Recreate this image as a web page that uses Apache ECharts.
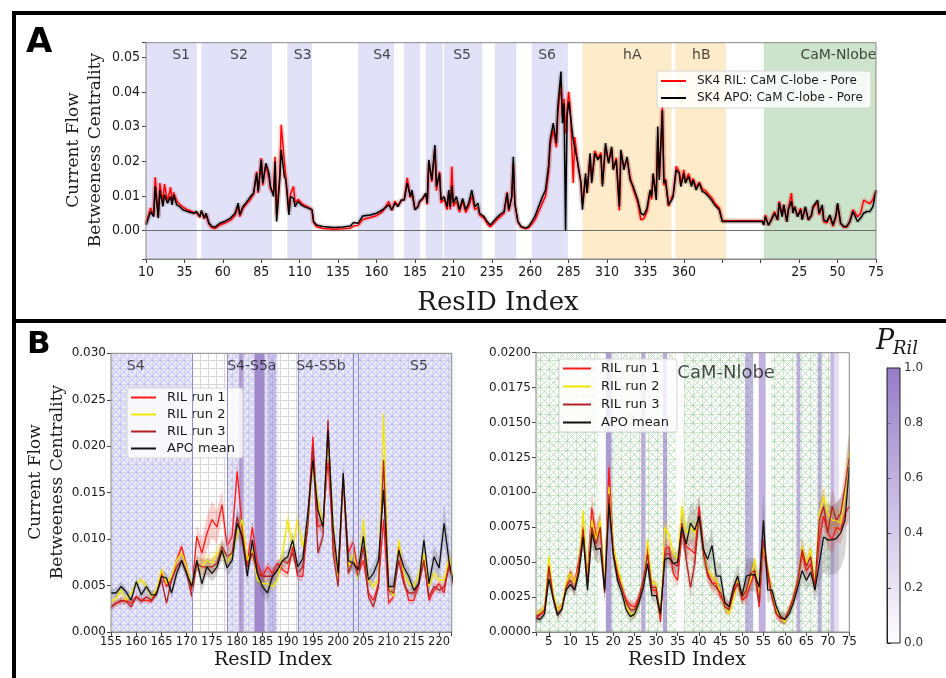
<!DOCTYPE html>
<html><head><meta charset="utf-8">
<script src="https://cdn.jsdelivr.net/npm/echarts@6/dist/echarts.min.js"></script>
<style>html,body{margin:0;padding:0;background:#fff}#c{width:946px;height:678px}</style>
</head><body><div id="c"></div>
<script>
// ---------------- DATA ----------------
// Panel A: x index (SK4 residues 10..385, then CaM N-lobe residue r at index 410+r)
const idxA = [10,13,15,16,18,19,21,22,24,26,27,28,30,32,34,37,41,43,45,46,48,49,51,53,55,58,61,65,68,70,71,73,75,78,80,82,83,85,86,88,90,91,93,94,95,97,98,100,101,103,104,106,107,109,111,113,116,118,119,121,125,132,138,143,145,148,151,156,160,164,168,170,172,174,176,178,180,182,183,185,187,188,190,192,193,194,196,198,199,201,202,204,206,207,208,209,210,212,214,216,218,220,222,224,226,227,230,232,234,236,238,240,243,245,246,248,249,250,252,254,257,259,261,263,265,268,270,272,273,275,277,278,280,281,282,283,284,285,286,288,289,291,293,294,296,297,299,300,302,304,306,307,309,311,313,314,316,318,319,321,323,325,327,330,332,334,336,338,339,340,342,343,344,346,347,348,350,352,353,355,357,358,360,361,363,365,366,368,370,372,374,376,378,380,383,385,411,412,413,415,417,419,421,422,424,425,427,428,430,431,432,434,436,437,439,441,443,444,447,448,450,451,453,455,457,459,460,462,464,466,468,470,473,475,477,479,481,483,485];
const apoA = [1.6e-3,5.5e-3,4.0e-3,12.7e-3,3.6e-3,11.7e-3,7.0e-3,10.3e-3,7.9e-3,9.8e-3,
7.4e-3,10.3e-3,7.4e-3,6.9e-3,6.0e-3,5.5e-3,5.0e-3,5.5e-3,4.0e-3,5.8e-3,
3.6e-3,5.0e-3,2.1e-3,1.2e-3,1.0e-3,2.1e-3,2.6e-3,3.6e-3,5.0e-3,7.9e-3,
4.5e-3,6.9e-3,7.9e-3,9.8e-3,10.8e-3,16.5e-3,11.3e-3,20.4e-3,13.7e-3,19.4e-3,
16.5e-3,12.7e-3,9.8e-3,19.9e-3,2.6e-3,14.6e-3,23.3e-3,15.6e-3,14.6e-3,4.5e-3,
9.8e-3,9.3e-3,6.9e-3,8.4e-3,7.4e-3,6.9e-3,6.4e-3,6.0e-3,2.6e-3,1.6e-3,
1.2e-3,0.9e-3,1.0e-3,1.3e-3,2.3e-3,2.1e-3,4.2e-3,4.5e-3,5.0e-3,6.0e-3,
7.4e-3,6.0e-3,7.9e-3,6.9e-3,8.8e-3,8.8e-3,13.7e-3,9.8e-3,11.7e-3,6.0e-3,
6.9e-3,8.4e-3,9.3e-3,10.8e-3,7.9e-3,20.4e-3,14.6e-3,24.7e-3,12.7e-3,16.5e-3,
8.8e-3,9.8e-3,6.9e-3,11.7e-3,6.9e-3,13.0e-3,7.9e-3,9.8e-3,6.0e-3,9.3e-3,
6.0e-3,7.9e-3,11.7e-3,6.9e-3,7.9e-3,5.0e-3,4.0e-3,2.6e-3,1.6e-3,2.6e-3,
3.6e-3,4.5e-3,5.5e-3,10.8e-3,6.0e-3,9.8e-3,21.3e-3,7.9e-3,2.6e-3,1.2e-3,
0.7e-3,1.2e-3,2.6e-3,4.0e-3,6.4e-3,9.8e-3,11.7e-3,18.9e-3,26.2e-3,31.0e-3,
25.2e-3,35.8e-3,45.9e-3,31.0e-3,36.7e-3,0.0,32.9e-3,37.2e-3,33.8e-3,26.2e-3,
26.2e-3,19.4e-3,13.7e-3,6.0e-3,16.5e-3,10.8e-3,22.3e-3,13.7e-3,22.3e-3,20.4e-3,
21.8e-3,12.7e-3,25.2e-3,19.4e-3,24.2e-3,17.5e-3,20.4e-3,6.9e-3,23.3e-3,17.5e-3,
21.3e-3,14.6e-3,12.7e-3,8.8e-3,5.0e-3,4.5e-3,6.4e-3,11.7e-3,9.8e-3,16.5e-3,
8.8e-3,30.0e-3,14.6e-3,34.8e-3,13.7e-3,14.6e-3,7.4e-3,8.8e-3,9.8e-3,17.5e-3,
16.5e-3,12.7e-3,16.5e-3,13.7e-3,15.6e-3,12.7e-3,14.6e-3,11.7e-3,13.7e-3,11.3e-3,
10.8e-3,9.8e-3,8.8e-3,7.4e-3,6.0e-3,2.6e-3,2.6e-3,1.6e-3,4.0e-3,1.6e-3,
3.1e-3,5.0e-3,3.1e-3,7.9e-3,4.0e-3,7.4e-3,2.6e-3,6.0e-3,8.5e-3,5.0e-3,
6.9e-3,4.0e-3,6.0e-3,3.1e-3,6.9e-3,3.1e-3,4.5e-3,6.9e-3,8.8e-3,5.0e-3,
7.4e-3,3.1e-3,2.6e-3,4.5e-3,1.6e-3,4.5e-3,7.9e-3,2.1e-3,1.2e-3,1.2e-3,
2.6e-3,5.5e-3,2.6e-3,3.6e-3,5.0e-3,5.5e-3,5.5e-3,6.9e-3,11.7e-3];
const rilA = [2.0e-3,6.5e-3,4.5e-3,15.4e-3,4.0e-3,13.7e-3,8.0e-3,13.4e-3,8.5e-3,12.5e-3,
8.0e-3,11.0e-3,8.5e-3,7.5e-3,6.8e-3,6.0e-3,5.2e-3,5.0e-3,3.8e-3,5.5e-3,
3.4e-3,4.8e-3,1.8e-3,0.8e-3,0.6e-3,1.6e-3,2.1e-3,3.0e-3,4.4e-3,7.0e-3,
4.0e-3,6.3e-3,7.5e-3,9.0e-3,10.5e-3,17.0e-3,10.8e-3,20.9e-3,13.0e-3,19.0e-3,
15.0e-3,12.0e-3,11.0e-3,21.3e-3,4.5e-3,16.0e-3,30.5e-3,20.0e-3,15.5e-3,5.5e-3,
10.5e-3,12.7e-3,8.0e-3,9.0e-3,8.0e-3,7.3e-3,6.6e-3,6.0e-3,2.3e-3,1.1e-3,
0.6e-3,0.4e-3,0.5e-3,0.7e-3,1.3e-3,1.5e-3,3.2e-3,3.8e-3,4.3e-3,5.5e-3,
8.4e-3,5.8e-3,8.5e-3,7.2e-3,8.5e-3,9.0e-3,15.2e-3,9.5e-3,11.0e-3,6.3e-3,
7.0e-3,8.2e-3,9.0e-3,10.5e-3,7.5e-3,19.5e-3,14.0e-3,23.5e-3,11.5e-3,17.0e-3,
8.0e-3,9.0e-3,6.0e-3,11.0e-3,6.0e-3,18.5e-3,7.0e-3,8.5e-3,5.3e-3,8.5e-3,
5.2e-3,7.0e-3,10.0e-3,6.0e-3,6.8e-3,4.5e-3,3.5e-3,2.0e-3,1.0e-3,2.0e-3,
3.0e-3,3.8e-3,5.0e-3,11.2e-3,5.5e-3,9.5e-3,19.5e-3,7.5e-3,2.5e-3,1.0e-3,
0.5e-3,0.8e-3,1.8e-3,3.0e-3,5.0e-3,8.0e-3,10.0e-3,17.0e-3,24.5e-3,29.0e-3,
24.0e-3,34.0e-3,42.0e-3,33.0e-3,38.0e-3,28.0e-3,35.0e-3,40.0e-3,36.0e-3,13.7e-3,
27.0e-3,19.0e-3,14.0e-3,8.0e-3,15.0e-3,11.0e-3,21.0e-3,14.5e-3,23.0e-3,21.0e-3,
22.5e-3,13.5e-3,24.0e-3,20.0e-3,23.5e-3,18.0e-3,21.0e-3,5.8e-3,22.5e-3,18.5e-3,
20.5e-3,15.5e-3,12.0e-3,8.0e-3,3.1e-3,3.5e-3,5.5e-3,11.0e-3,9.0e-3,16.0e-3,
9.5e-3,27.0e-3,15.5e-3,35.5e-3,13.0e-3,15.0e-3,7.0e-3,9.5e-3,10.5e-3,18.5e-3,
17.0e-3,13.5e-3,17.5e-3,14.0e-3,16.5e-3,13.5e-3,15.0e-3,12.5e-3,14.0e-3,12.0e-3,
11.5e-3,10.5e-3,9.5e-3,8.0e-3,6.5e-3,2.8e-3,2.8e-3,1.8e-3,4.5e-3,1.5e-3,
3.5e-3,5.5e-3,3.0e-3,8.5e-3,4.5e-3,7.5e-3,2.5e-3,6.5e-3,10.8e-3,5.2e-3,
7.0e-3,4.2e-3,6.5e-3,3.3e-3,6.5e-3,3.0e-3,4.2e-3,6.5e-3,8.0e-3,4.5e-3,
7.0e-3,2.5e-3,2.2e-3,4.0e-3,1.2e-3,4.0e-3,7.5e-3,2.0e-3,1.0e-3,1.0e-3,
2.8e-3,6.0e-3,4.0e-3,5.0e-3,8.8e-3,8.2e-3,7.8e-3,9.0e-3,11.5e-3];
const tickLabelsA = ['10','35','60','85','110','135','160','185','210','235','260','285','310','335','360','','','25','50','75'];
const regionNamesA = ['S1','S2','S3','S4','S5','S6','hA','hB','CaM-Nlobe'];
const regionCentersA = [32.8,70.5,112,163.6,215.7,271,326.4,371.3,460.5];
const tmRegionsA = [[10,43],[46,92],[102,118],[148,171.5],[178,188.4],[192,203],[204,228.8],[237,251],[261,284.5]];
const helixRegionsA = [[294,352],[354.4,387.4]];
const camRegionsA = [[412,485]];

// Panel B left: SK4 residues 155..223
const resBL = [155,156,157,158,159,160,161,162,163,164,165,166,167,168,169,170,171,172,173,174,175,176,177,178,179,180,181,182,183,184,185,186,187,188,189,190,191,192,193,194,195,196,197,198,199,200,201,202,203,204,205,206,207,208,209,210,211,212,213,214,215,216,217,218,219,220,221,222,223];
const run1BL = [2.7e-3,3.1e-3,3.3e-3,3.4e-3,3.1e-3,3.8e-3,3.4e-3,3.4e-3,3.3e-3,4.2e-3,
6.3e-3,4.9e-3,5.6e-3,7.7e-3,9.2e-3,7.0e-3,4.5e-3,10.3e-3,8.5e-3,10.6e-3,
12.1e-3,11.3e-3,13.7e-3,9.2e-3,10.3e-3,17.3e-3,11.3e-3,7.4e-3,11.3e-3,7.4e-3,
6.0e-3,7.0e-3,6.3e-3,7.4e-3,6.7e-3,6.3e-3,9.2e-3,6.0e-3,6.0e-3,12.1e-3,
21.0e-3,11.3e-3,11.7e-3,18.5e-3,9.9e-3,6.0e-3,16.7e-3,8.5e-3,9.7e-3,6.3e-3,
7.7e-3,4.2e-3,3.4e-3,5.2e-3,12.1e-3,3.1e-3,3.8e-3,9.2e-3,5.6e-3,3.4e-3,
3.4e-3,5.2e-3,7.7e-3,3.4e-3,4.5e-3,5.2e-3,4.2e-3,7.7e-3,4.5e-3];
const run2BL = [3.3e-3,3.6e-3,4.5e-3,3.4e-3,4.2e-3,5.2e-3,5.6e-3,4.9e-3,3.8e-3,4.5e-3,
6.7e-3,5.2e-3,6.0e-3,7.7e-3,8.5e-3,7.0e-3,4.9e-3,7.4e-3,7.0e-3,7.7e-3,
7.4e-3,8.5e-3,8.8e-3,7.4e-3,8.5e-3,10.6e-3,12.1e-3,7.7e-3,8.8e-3,5.6e-3,
5.2e-3,5.2e-3,4.9e-3,5.6e-3,8.5e-3,12.1e-3,9.2e-3,12.1e-3,9.2e-3,11.7e-3,
18.2e-3,14.2e-3,11.3e-3,21.0e-3,12.1e-3,5.6e-3,16.7e-3,7.0e-3,8.5e-3,5.6e-3,
12.1e-3,5.6e-3,4.9e-3,5.6e-3,23.5e-3,4.9e-3,3.8e-3,9.9e-3,6.3e-3,5.2e-3,
4.9e-3,6.3e-3,8.5e-3,4.9e-3,6.3e-3,5.6e-3,5.6e-3,8.1e-3,5.2e-3];
const run3BL = [2.7e-3,3.1e-3,3.4e-3,3.3e-3,2.7e-3,3.8e-3,3.3e-3,3.8e-3,3.4e-3,4.2e-3,
5.6e-3,3.1e-3,5.6e-3,7.0e-3,7.7e-3,6.3e-3,3.8e-3,7.4e-3,7.0e-3,7.0e-3,
7.0e-3,7.4e-3,9.2e-3,8.1e-3,8.5e-3,12.4e-3,9.9e-3,7.0e-3,8.5e-3,6.3e-3,
6.0e-3,6.0e-3,6.0e-3,6.7e-3,7.7e-3,7.4e-3,8.5e-3,6.3e-3,7.0e-3,11.3e-3,
20.0e-3,8.5e-3,10.3e-3,22.8e-3,8.5e-3,4.9e-3,16.7e-3,6.3e-3,7.7e-3,6.0e-3,
9.2e-3,3.8e-3,2.7e-3,4.9e-3,18.5e-3,4.5e-3,4.2e-3,7.7e-3,5.2e-3,4.2e-3,
4.2e-3,5.2e-3,7.7e-3,3.8e-3,4.9e-3,4.5e-3,4.9e-3,7.0e-3,4.9e-3];
const apoBL = [4.2e-3,4.2e-3,4.9e-3,4.3e-3,3.4e-3,5.4e-3,4.0e-3,4.9e-3,4.0e-3,4.0e-3,
6.0e-3,5.8e-3,4.2e-3,6.3e-3,7.7e-3,6.3e-3,4.9e-3,7.7e-3,5.2e-3,7.0e-3,
6.3e-3,7.0e-3,8.8e-3,6.9e-3,7.7e-3,11.7e-3,10.3e-3,6.0e-3,9.9e-3,6.3e-3,
4.9e-3,4.2e-3,6.0e-3,6.7e-3,7.7e-3,8.1e-3,9.9e-3,7.0e-3,7.9e-3,12.8e-3,
18.5e-3,13.1e-3,11.3e-3,21.7e-3,11.3e-3,6.3e-3,17.1e-3,7.7e-3,7.4e-3,6.7e-3,
10.3e-3,5.6e-3,6.3e-3,7.7e-3,15.3e-3,4.9e-3,4.9e-3,8.8e-3,7.0e-3,6.0e-3,
4.5e-3,5.2e-3,9.9e-3,5.2e-3,8.1e-3,6.9e-3,11.7e-3,7.5e-3,5.0e-3];
// half-widths of the shaded spread around each B-left curve
const sd1BL = [0.3e-3,0.3e-3,0.3e-3,0.3e-3,0.3e-3,0.3e-3,0.3e-3,0.3e-3,0.3e-3,0.3e-3,
0.5e-3,0.4e-3,0.4e-3,0.5e-3,0.6e-3,0.5e-3,0.4e-3,1.2e-3,1.5e-3,1.8e-3,
2.0e-3,1.8e-3,1.6e-3,1.0e-3,1.0e-3,1.2e-3,0.8e-3,0.6e-3,0.8e-3,0.6e-3,
0.6e-3,0.6e-3,0.6e-3,0.5e-3,0.6e-3,0.6e-3,0.8e-3,0.5e-3,0.5e-3,0.8e-3,
1.2e-3,0.8e-3,0.8e-3,1.0e-3,0.8e-3,0.5e-3,1.0e-3,0.7e-3,0.8e-3,0.5e-3,
0.6e-3,0.4e-3,0.4e-3,0.4e-3,0.8e-3,0.4e-3,0.4e-3,0.6e-3,0.4e-3,0.4e-3,
0.4e-3,0.4e-3,0.5e-3,0.4e-3,0.4e-3,0.4e-3,0.4e-3,0.5e-3,0.4e-3];
const sd2BL = [0.4e-3,0.4e-3,0.4e-3,0.4e-3,0.4e-3,0.4e-3,0.4e-3,0.4e-3,0.4e-3,0.4e-3,
0.5e-3,0.4e-3,0.4e-3,0.5e-3,0.5e-3,0.5e-3,0.4e-3,0.7e-3,0.8e-3,0.8e-3,
0.8e-3,0.8e-3,0.8e-3,0.7e-3,0.7e-3,0.9e-3,0.9e-3,0.6e-3,0.6e-3,0.5e-3,
0.5e-3,0.5e-3,0.5e-3,0.5e-3,0.7e-3,1.0e-3,0.8e-3,1.0e-3,0.8e-3,0.8e-3,
1.2e-3,1.0e-3,0.8e-3,1.2e-3,0.8e-3,0.5e-3,1.0e-3,0.6e-3,0.6e-3,0.5e-3,
0.8e-3,0.5e-3,0.5e-3,0.5e-3,1.2e-3,0.5e-3,0.4e-3,0.7e-3,0.5e-3,0.4e-3,
0.4e-3,0.5e-3,0.6e-3,0.4e-3,0.5e-3,0.5e-3,0.5e-3,0.6e-3,0.5e-3];
const sd3BL = [0.4e-3,0.4e-3,0.4e-3,0.4e-3,0.4e-3,0.4e-3,0.4e-3,0.4e-3,0.4e-3,0.4e-3,
0.5e-3,0.4e-3,0.5e-3,0.5e-3,0.6e-3,0.5e-3,0.4e-3,0.9e-3,0.9e-3,0.9e-3,
0.9e-3,0.9e-3,1.0e-3,0.8e-3,0.8e-3,1.0e-3,0.8e-3,0.6e-3,0.7e-3,0.6e-3,
0.6e-3,0.6e-3,0.6e-3,0.6e-3,0.6e-3,0.6e-3,0.7e-3,0.6e-3,0.6e-3,0.8e-3,
1.2e-3,0.8e-3,0.8e-3,1.2e-3,0.8e-3,0.5e-3,1.0e-3,0.6e-3,0.6e-3,0.5e-3,
0.7e-3,0.4e-3,0.4e-3,0.5e-3,1.0e-3,0.4e-3,0.4e-3,0.6e-3,0.5e-3,0.4e-3,
0.4e-3,0.5e-3,0.6e-3,0.4e-3,0.5e-3,0.4e-3,0.5e-3,0.6e-3,0.5e-3];
const sdApoBL = [0.5e-3,0.5e-3,0.5e-3,0.5e-3,0.5e-3,0.5e-3,0.5e-3,0.5e-3,0.5e-3,0.5e-3,
0.6e-3,0.6e-3,0.6e-3,0.7e-3,0.7e-3,0.7e-3,0.8e-3,0.9e-3,0.9e-3,0.9e-3,
0.9e-3,0.9e-3,1.0e-3,1.0e-3,1.0e-3,1.5e-3,1.3e-3,1.0e-3,1.2e-3,1.0e-3,
1.0e-3,1.0e-3,0.9e-3,0.9e-3,0.9e-3,0.9e-3,1.0e-3,0.9e-3,0.9e-3,1.2e-3,
1.6e-3,1.3e-3,1.2e-3,2.0e-3,1.2e-3,1.0e-3,1.5e-3,1.0e-3,1.0e-3,1.0e-3,
1.2e-3,1.0e-3,1.0e-3,1.0e-3,1.2e-3,1.0e-3,1.0e-3,1.0e-3,1.0e-3,1.0e-3,
0.9e-3,1.0e-3,1.2e-3,1.0e-3,1.2e-3,1.2e-3,2.2e-3,1.8e-3,1.5e-3];
const regionNamesBL = ['S4','S4-S5a','S4-S5b','S5'];
const regionCentersBL = [159.9,182.9,196.6,216];
const hatchRegionsBL = [[155,171],[178,180.2],[181.3,183.4],[185.4,188],[192,222.5]];
const boundariesBL = [171,178,192,203,204];
const pRilBL = [[180.3,181.3,0.7],[183.4,185.4,0.9],[186,187.7,0.35]];

// Panel B right: CaM N-lobe residues 2..75
const resBR = [2,3,4,5,6,7,8,9,10,11,12,13,14,15,16,17,18,19,20,21,22,23,24,25,26,27,28,29,30,31,32,33,34,35,36,37,38,39,40,41,42,43,44,45,46,47,48,49,50,51,52,53,54,55,56,57,58,59,60,61,62,63,64,65,66,67,68,69,70,71,72,73,74,75];
const run1BR = [0.9e-3,1.3e-3,1.4e-3,4.8e-3,2.5e-3,1.6e-3,1.8e-3,3.2e-3,4.3e-3,3.5e-3,
5.2e-3,7.5e-3,4.0e-3,8.9e-3,6.8e-3,7.5e-3,3.2e-3,11.8e-3,6.1e-3,4.2e-3,
3.2e-3,2.3e-3,1.9e-3,1.8e-3,2.5e-3,3.7e-3,6.1e-3,3.0e-3,3.0e-3,0.7e-3,
5.9e-3,6.1e-3,4.2e-3,3.7e-3,7.1e-3,6.1e-3,5.9e-3,5.6e-3,9.0e-3,6.1e-3,
4.0e-3,3.5e-3,3.5e-3,2.5e-3,2.1e-3,1.8e-3,3.0e-3,3.7e-3,2.3e-3,2.5e-3,
3.5e-3,4.2e-3,1.8e-3,6.1e-3,4.0e-3,2.5e-3,1.3e-3,0.9e-3,0.9e-3,1.6e-3,
2.3e-3,3.7e-3,5.6e-3,4.4e-3,4.9e-3,3.2e-3,6.6e-3,8.3e-3,7.1e-3,6.6e-3,
7.5e-3,7.3e-3,8.5e-3,9.0e-3];
const run2BR = [1.3e-3,1.4e-3,1.8e-3,5.4e-3,2.8e-3,1.6e-3,1.8e-3,3.5e-3,4.2e-3,3.5e-3,
4.7e-3,8.7e-3,3.7e-3,8.0e-3,6.6e-3,8.0e-3,3.5e-3,10.4e-3,6.1e-3,4.7e-3,
3.5e-3,1.8e-3,1.3e-3,1.3e-3,2.1e-3,3.5e-3,6.6e-3,3.5e-3,3.5e-3,1.1e-3,
7.5e-3,6.9e-3,5.6e-3,5.2e-3,9.0e-3,7.1e-3,7.5e-3,7.1e-3,8.3e-3,5.6e-3,
4.4e-3,4.0e-3,3.7e-3,2.8e-3,1.8e-3,1.3e-3,2.3e-3,3.7e-3,2.5e-3,3.0e-3,
3.7e-3,5.2e-3,2.3e-3,6.1e-3,4.7e-3,2.8e-3,1.6e-3,1.0e-3,0.7e-3,1.6e-3,
2.5e-3,3.7e-3,6.1e-3,4.9e-3,5.9e-3,3.5e-3,8.5e-3,9.7e-3,8.5e-3,8.0e-3,
8.0e-3,7.8e-3,9.9e-3,12.8e-3];
const run3BR = [1.1e-3,1.3e-3,1.6e-3,4.7e-3,2.5e-3,1.3e-3,1.6e-3,3.2e-3,3.7e-3,3.0e-3,
4.7e-3,7.3e-3,3.5e-3,7.5e-3,6.3e-3,7.5e-3,2.8e-3,9.9e-3,5.6e-3,4.0e-3,
3.2e-3,2.1e-3,1.6e-3,1.6e-3,2.3e-3,3.7e-3,5.6e-3,3.2e-3,3.2e-3,1.1e-3,
5.6e-3,5.6e-3,4.9e-3,4.7e-3,7.8e-3,5.2e-3,3.2e-3,4.9e-3,8.5e-3,5.6e-3,
4.2e-3,3.5e-3,3.2e-3,2.8e-3,1.8e-3,1.6e-3,2.8e-3,3.5e-3,2.5e-3,3.0e-3,
4.2e-3,4.4e-3,2.1e-3,6.6e-3,4.4e-3,2.5e-3,1.3e-3,1.0e-3,0.9e-3,1.6e-3,
2.5e-3,3.7e-3,5.9e-3,4.7e-3,5.4e-3,3.2e-3,8.0e-3,9.0e-3,7.1e-3,9.0e-3,
8.0e-3,8.5e-3,10.4e-3,12.5e-3];
const apoBR = [1.0e-3,0.9e-3,1.3e-3,3.8e-3,2.4e-3,1.2e-3,1.6e-3,3.0e-3,3.4e-3,3.0e-3,
4.2e-3,6.8e-3,3.0e-3,7.1e-3,5.9e-3,6.0e-3,3.0e-3,9.2e-3,5.6e-3,3.7e-3,
2.8e-3,1.6e-3,1.1e-3,1.3e-3,2.1e-3,3.2e-3,4.9e-3,2.6e-3,2.6e-3,1.3e-3,
5.2e-3,5.3e-3,4.9e-3,5.0e-3,7.5e-3,6.3e-3,7.8e-3,7.3e-3,8.3e-3,5.9e-3,
5.2e-3,6.2e-3,4.0e-3,4.0e-3,2.1e-3,1.8e-3,3.2e-3,4.0e-3,2.6e-3,4.0e-3,
4.1e-3,4.1e-3,3.2e-3,8.0e-3,3.0e-3,3.0e-3,1.8e-3,1.1e-3,0.9e-3,1.3e-3,
2.1e-3,3.2e-3,4.4e-3,3.7e-3,4.3e-3,3.0e-3,4.9e-3,6.8e-3,6.6e-3,6.6e-3,
6.7e-3,7.1e-3,8.0e-3,11.8e-3];
const sd1BR = [0.3e-3,0.3e-3,0.3e-3,0.5e-3,0.4e-3,0.3e-3,0.3e-3,0.4e-3,0.4e-3,0.4e-3,
0.5e-3,0.8e-3,0.6e-3,1.2e-3,1.0e-3,1.0e-3,0.6e-3,1.2e-3,0.8e-3,0.5e-3,
0.4e-3,0.4e-3,0.4e-3,0.4e-3,0.4e-3,0.4e-3,0.6e-3,0.4e-3,0.4e-3,0.3e-3,
0.6e-3,0.6e-3,0.5e-3,0.5e-3,0.8e-3,0.8e-3,0.8e-3,0.8e-3,0.8e-3,0.6e-3,
0.5e-3,0.5e-3,0.5e-3,0.4e-3,0.4e-3,0.4e-3,0.4e-3,0.5e-3,0.4e-3,0.4e-3,
0.5e-3,0.5e-3,0.4e-3,0.8e-3,0.5e-3,0.4e-3,0.3e-3,0.3e-3,0.3e-3,0.3e-3,
0.4e-3,0.5e-3,0.7e-3,0.6e-3,0.6e-3,0.5e-3,0.9e-3,1.0e-3,1.0e-3,1.0e-3,
1.0e-3,1.0e-3,1.0e-3,1.2e-3];
const sd2BR = [0.3e-3,0.3e-3,0.3e-3,0.4e-3,0.4e-3,0.3e-3,0.3e-3,0.4e-3,0.4e-3,0.4e-3,
0.4e-3,0.7e-3,0.5e-3,0.8e-3,0.7e-3,0.8e-3,0.5e-3,0.9e-3,0.6e-3,0.5e-3,
0.4e-3,0.4e-3,0.4e-3,0.4e-3,0.4e-3,0.4e-3,0.5e-3,0.4e-3,0.4e-3,0.3e-3,
0.6e-3,0.6e-3,0.5e-3,0.5e-3,0.8e-3,0.7e-3,0.7e-3,0.7e-3,0.7e-3,0.5e-3,
0.5e-3,0.5e-3,0.4e-3,0.4e-3,0.4e-3,0.3e-3,0.4e-3,0.4e-3,0.4e-3,0.4e-3,
0.5e-3,0.5e-3,0.4e-3,0.7e-3,0.5e-3,0.4e-3,0.3e-3,0.3e-3,0.3e-3,0.3e-3,
0.4e-3,0.5e-3,0.7e-3,0.6e-3,0.6e-3,0.5e-3,0.8e-3,0.9e-3,0.9e-3,0.9e-3,
0.9e-3,0.9e-3,1.0e-3,1.5e-3];
const sd3BR = [0.4e-3,0.4e-3,0.4e-3,0.5e-3,0.5e-3,0.4e-3,0.4e-3,0.5e-3,0.5e-3,0.5e-3,
0.6e-3,1.0e-3,0.7e-3,1.2e-3,1.2e-3,1.2e-3,0.8e-3,1.2e-3,0.8e-3,0.6e-3,
0.5e-3,0.5e-3,0.5e-3,0.5e-3,0.5e-3,0.5e-3,0.7e-3,0.5e-3,0.5e-3,0.4e-3,
0.7e-3,0.7e-3,0.6e-3,0.6e-3,0.9e-3,0.9e-3,0.9e-3,0.9e-3,0.9e-3,0.7e-3,
0.6e-3,0.6e-3,0.6e-3,0.5e-3,0.5e-3,0.4e-3,0.5e-3,0.5e-3,0.5e-3,0.5e-3,
0.6e-3,0.6e-3,0.5e-3,0.9e-3,0.6e-3,0.5e-3,0.4e-3,0.4e-3,0.4e-3,0.4e-3,
0.5e-3,0.6e-3,0.8e-3,0.7e-3,0.7e-3,0.6e-3,1.2e-3,1.2e-3,1.2e-3,1.2e-3,
1.2e-3,1.2e-3,1.5e-3,2.0e-3];
const sdApoBR = [0.3e-3,0.3e-3,0.3e-3,0.5e-3,0.4e-3,0.3e-3,0.3e-3,0.4e-3,0.4e-3,0.4e-3,
0.5e-3,0.8e-3,0.6e-3,1.0e-3,1.0e-3,1.0e-3,0.8e-3,1.2e-3,0.8e-3,0.6e-3,
0.5e-3,0.4e-3,0.4e-3,0.4e-3,0.5e-3,0.5e-3,0.6e-3,0.5e-3,0.5e-3,0.4e-3,
0.6e-3,0.7e-3,0.8e-3,0.8e-3,1.2e-3,1.2e-3,1.5e-3,1.5e-3,1.5e-3,1.2e-3,
1.2e-3,1.2e-3,1.0e-3,1.0e-3,0.6e-3,0.5e-3,0.7e-3,0.8e-3,0.8e-3,1.2e-3,
1.2e-3,1.2e-3,1.0e-3,2.0e-3,1.0e-3,0.6e-3,0.5e-3,0.4e-3,0.4e-3,0.4e-3,
0.5e-3,0.6e-3,0.8e-3,0.8e-3,0.8e-3,0.8e-3,1.5e-3,2.5e-3,2.5e-3,2.5e-3,
2.5e-3,2.5e-3,2.5e-3,2.5e-3];
const hatchRegionsBR = [[2,16.5],[18.1,34.5],[36.5,52.6],[56.8,70.6]];
const pRilBR = [[18.3,19.6,0.75],[26.5,27.5,0.6],[31.6,32.5,0.65],[50.7,52.6,0.55],[53.9,55.5,0.6],[62.7,63.6,0.6],[67.6,68.6,0.55],[70.6,71.5,0.55],[71.5,72.6,0.25]];
const colorbarTicks = [0,0.2,0.4,0.6,0.8,1.0];

// ---------------- STYLE / BUILD ----------------
const SANS = "'DejaVu Sans', sans-serif";
const SANS_C = "'DejaVu Sans Condensed', 'DejaVu Sans', sans-serif";
const SERIF = "'DejaVu Serif', serif";
const PURPLE = [150,125,200];
const chart = echarts.init(document.getElementById('c'), null, {renderer:'canvas', width:946, height:678});

function pattern(size, bg, draw){
  const c = document.createElement('canvas'); c.width = size; c.height = size;
  const g = c.getContext('2d');
  if (bg) { g.fillStyle = bg; g.fillRect(0,0,size,size); }
  draw(g, size);
  return {type:'pattern', image:c, repeat:'repeat'};
}
function diag(g, s, col){ g.strokeStyle = col; g.lineWidth = 1; g.beginPath(); g.moveTo(0,0); g.lineTo(s,s); g.moveTo(s,0); g.lineTo(0,s); g.stroke(); }
const gridPat = pattern(8, '#ffffff', (g,s)=>{ g.fillStyle='#d6d6d6'; g.fillRect(0,0,s,1); g.fillRect(0,0,1,s); });
const bluePat = pattern(8, '#e9e9fb', (g,s)=>{ diag(g,s,'rgba(150,150,235,0.42)'); g.fillStyle='rgba(185,185,222,0.5)'; g.fillRect(0,0,s,1); g.fillRect(0,0,1,s); });
const greenPat = pattern(9, '#ffffff', (g,s)=>{ diag(g,s,'rgba(130,200,130,0.5)'); g.fillStyle='rgba(160,210,160,0.5)'; g.fillRect(0,0,s,1); g.fillRect(0,0,1,s); });
const pColor = p => `rgba(${PURPLE[0]},${PURPLE[1]},${PURPLE[2]},${p})`;

function regionSeries(gi, list, fill, z){
  return { type:'custom', xAxisIndex:gi, yAxisIndex:gi, silent:true, z:z, animation:false, clip:true,
    dimensions:['a','b','p'], encode:{x:[0,1]}, data:list.map(r=>[r[0], r[1], r[2]==null?1:r[2]]),
    renderItem:(params, api)=>{
      const cs = params.coordSys;
      const a = api.coord([api.value(0), 0])[0], b = api.coord([api.value(1), 0])[0];
      const x0 = Math.max(cs.x, Math.min(a,b)), x1 = Math.min(cs.x+cs.width, Math.max(a,b));
      return {type:'rect', shape:{x:x0, y:cs.y, width:x1-x0, height:cs.height},
        style:{fill: typeof fill === 'function' ? fill(api.value(2)) : fill}};
    }};
}
function bandSeries(gi, xs, ys, sd, color, z){
  return { type:'custom', xAxisIndex:gi, yAxisIndex:gi, silent:true, z:z, animation:false,
    encode:{x:0, y:1}, data:[[xs[0], ys[0]]],
    renderItem:(params, api)=>{
      const cs = params.coordSys, pts = [];
      for (let i=0;i<xs.length;i++) pts.push(api.coord([xs[i], ys[i]+sd[i]]));
      for (let i=xs.length-1;i>=0;i--) pts.push(api.coord([xs[i], ys[i]-sd[i]]));
      return {type:'polygon', shape:{points:pts}, style:{fill:color},
        clipPath:{type:'rect', shape:{x:cs.x, y:cs.y, width:cs.width, height:cs.height}}};
    }};
}
function lineSeries(gi, name, xs, ys, color, width, z, opacity){
  return { type:'line', name:name, xAxisIndex:gi, yAxisIndex:gi, data:xs.map((x,i)=>[x, ys[i]]),
    showSymbol:false, symbol:'none', lineStyle:{color:color, width:width, opacity:opacity==null?1:opacity},
    itemStyle:{color:color}, z:z, animation:false, silent:true, clip:true };
}
function labelSeries(gi, names, xs, y, size){
  return { type:'scatter', xAxisIndex:gi, yAxisIndex:gi, symbol:'circle', symbolSize:1, silent:true, z:8, animation:false,
    itemStyle:{color:'rgba(0,0,0,0)'},
    data:names.map((n,i)=>({name:n, value:[xs[i], y]})),
    label:{show:true, position:'inside', formatter:'{b}', color:'#1a1a1a', fontSize:size, fontFamily:SANS}};
}
function xAx(gi, o){ return Object.assign({gridIndex:gi, type:'value', splitLine:{show:false},
  axisLine:{show:true, onZero:false, lineStyle:{color:'#888'}}, axisTick:{show:true, length:4, lineStyle:{color:'#444'}},
  axisLabel:{color:'#1a1a1a', fontSize:12, fontFamily:SANS, margin:5}}, o); }
function yAx(gi, o){ return Object.assign({gridIndex:gi, type:'value', splitLine:{show:false},
  axisLine:{show:true, lineStyle:{color:'#888'}}, axisTick:{show:true, length:4, lineStyle:{color:'#444'}},
  axisLabel:{color:'#1a1a1a', fontSize:12, fontFamily:SANS, margin:5}}, o); }
const isMult = (v, step) => Math.abs(v/step - Math.round(v/step)) < 1e-6;

const NAME_RA = 'SK4 RIL: CaM C-lobe - Pore', NAME_AA = 'SK4 APO: CaM C-lobe - Pore';
const RUN1 = 'RIL run 1', RUN2 = 'RIL run 2', RUN3 = 'RIL run 3', APO = 'APO mean';
const C1 = '#ff1a1a', C2 = '#f2e600', C3 = '#b22222', CA = '#111111';

const series = [
  // Panel A
  regionSeries(0, tmRegionsA, '#e1e1f8', 1),
  regionSeries(0, helixRegionsA, '#fdebc9', 1),
  regionSeries(0, camRegionsA, '#cbe4cb', 1),
  lineSeries(0, '_haloR', idxA, rilA, '#ff0000', 5, 3, 0.16),
  lineSeries(0, '_haloA', idxA, apoA, '#000000', 5, 3, 0.12),
  lineSeries(0, NAME_RA, idxA, rilA, '#ff0000', 1.5, 4),
  Object.assign(lineSeries(0, NAME_AA, idxA, apoA, '#000000', 1.5, 5), {
    markLine:{silent:true, symbol:'none', label:{show:false}, lineStyle:{color:'#6e6e6e', width:1, type:'solid'}, data:[{yAxis:0}], animation:false}
  }),
  labelSeries(0, regionNamesA, regionCentersA, 0.0506, 14),
  // Panel B left
  regionSeries(1, [[155,222.5]], gridPat, 0),
  regionSeries(1, hatchRegionsBL, bluePat, 1),
  regionSeries(1, pRilBL, pColor, 2),
  Object.assign(regionSeries(1, [], '#fff', 2), {
    markLine:{silent:true, symbol:'none', label:{show:false}, lineStyle:{color:'#9090c4', width:1, type:'solid'}, data:boundariesBL.map(b=>({xAxis:b})), animation:false}
  }),
  bandSeries(1, resBL, run1BL, sd1BL, 'rgba(255,30,30,0.2)', 3),
  bandSeries(1, resBL, run2BL, sd2BL, 'rgba(240,215,0,0.22)', 3),
  bandSeries(1, resBL, run3BL, sd3BL, 'rgba(170,40,30,0.2)', 3),
  bandSeries(1, resBL, apoBL, sdApoBL, 'rgba(60,60,60,0.2)', 3),
  lineSeries(1, RUN1, resBL, run1BL, C1, 1.3, 4),
  lineSeries(1, RUN2, resBL, run2BL, C2, 1.3, 4),
  lineSeries(1, RUN3, resBL, run3BL, C3, 1.3, 4),
  lineSeries(1, APO, resBL, apoBL, CA, 1.3, 5),
  labelSeries(1, regionNamesBL, regionCentersBL, 0.0286, 14),
  // Panel B right
  regionSeries(2, hatchRegionsBR, greenPat, 1),
  regionSeries(2, pRilBR, pColor, 2),
  bandSeries(2, resBR, run1BR, sd1BR, 'rgba(255,30,30,0.2)', 3),
  bandSeries(2, resBR, run2BR, sd2BR, 'rgba(240,215,0,0.22)', 3),
  bandSeries(2, resBR, run3BR, sd3BR, 'rgba(170,40,30,0.2)', 3),
  bandSeries(2, resBR, apoBR, sdApoBR, 'rgba(60,60,60,0.2)', 3),
  lineSeries(2, RUN1, resBR, run1BR, C1, 1.3, 4),
  lineSeries(2, RUN2, resBR, run2BR, C2, 1.3, 4),
  lineSeries(2, RUN3, resBR, run3BR, C3, 1.3, 4),
  lineSeries(2, APO, resBR, apoBR, CA, 1.3, 5),
  labelSeries(2, ['CaM-Nlobe'], [46.3], 0.01855, 18),
  // Colorbar
  { type:'custom', xAxisIndex:3, yAxisIndex:3, silent:true, z:2, animation:false, encode:{x:0,y:1}, data:[[0, colorbarTicks[0]]],
    renderItem:(params, api)=>{
      const p0 = api.coord([0, colorbarTicks[colorbarTicks.length-1]]), p1 = api.coord([1, colorbarTicks[0]]);
      return {type:'rect', shape:{x:p0[0], y:p0[1], width:p1[0]-p0[0], height:p1[1]-p0[1]},
        style:{fill:new echarts.graphic.LinearGradient(0,0,0,1,[{offset:0,color:pColor(1)},{offset:1,color:pColor(0)}])}};
    }}
];

const legendCommon = {orient:'vertical', icon:'rect', itemHeight:2, selectedMode:false,
  backgroundColor:'rgba(255,255,255,0.82)', borderColor:'#d6d6d6', borderWidth:1, borderRadius:3};

const option = {
  animation:false,
  backgroundColor:'#ffffff',
  grid:[
    {left:146, top:42.7, width:730, height:216.3, show:true, borderColor:'#888', borderWidth:1, backgroundColor:'rgba(0,0,0,0)', z:10},
    {left:111, top:353.3, width:340.7, height:278.7, show:true, borderColor:'#888', borderWidth:1, backgroundColor:'rgba(0,0,0,0)', z:10},
    {left:536, top:352.7, width:313.3, height:279.3, show:true, borderColor:'#888', borderWidth:1, backgroundColor:'rgba(0,0,0,0)', z:10},
    {left:887, top:368, width:13, height:275, show:true, borderColor:'#222', borderWidth:1, backgroundColor:'rgba(0,0,0,0)', z:10}
  ],
  xAxis:[
    xAx(0, {min:10, max:485, interval:25, axisLabel:{color:'#1a1a1a', fontSize:14, fontFamily:SANS_C, margin:6,
      formatter:v=>{ const k = Math.round((v-10)/25); return isMult(v-10,25) && tickLabelsA[k]!=null ? tickLabelsA[k] : ''; }}}),
    xAx(1, {min:155, max:222.5, interval:5, axisLabel:{color:'#1a1a1a', fontSize:11.5, fontFamily:SANS, margin:4,
      formatter:v=> isMult(v,5) ? String(Math.round(v)) : ''}}),
    xAx(2, {min:2, max:75, splitNumber:14, axisLabel:{color:'#1a1a1a', fontSize:12, fontFamily:SANS, margin:4,
      formatter:v=> isMult(v,5) ? String(Math.round(v)) : ''}}),
    {gridIndex:3, type:'value', min:0, max:1, show:false}
  ],
  yAxis:[
    yAx(0, {min:-0.0082, max:0.0542, splitNumber:6, axisLabel:{color:'#1a1a1a', fontSize:14, fontFamily:SANS_C, margin:6,
      formatter:v=> isMult(v,0.01) ? v.toFixed(2) : ''}}),
    yAx(1, {min:0, max:0.03, interval:0.005, axisLabel:{color:'#1a1a1a', fontSize:12, fontFamily:SANS, margin:5,
      formatter:v=> v.toFixed(3)}}),
    yAx(2, {min:0, max:0.02, interval:0.0025, axisLabel:{color:'#1a1a1a', fontSize:12, fontFamily:SANS, margin:5,
      formatter:v=> v.toFixed(4)}}),
    {gridIndex:3, type:'value', min:0, max:1, interval:0.2, position:'right', splitLine:{show:false},
      axisLine:{show:true, lineStyle:{color:'#222'}}, axisTick:{show:true, length:4, lineStyle:{color:'#222'}},
      axisLabel:{color:'#333', fontSize:12, fontFamily:SANS, margin:4, formatter:v=>v.toFixed(1)}}
  ],
  legend:[
    Object.assign({}, legendCommon, {left:657, top:71, data:[NAME_RA, NAME_AA], itemWidth:25, itemGap:5, padding:[4,8,4,4],
      textStyle:{fontSize:12, fontFamily:SANS, color:'#1a1a1a', padding:[0,0,0,6]}}),
    Object.assign({}, legendCommon, {left:127, top:388, data:[RUN1, RUN2, RUN3, APO], itemWidth:25, itemGap:4, padding:[3,8,3,4],
      textStyle:{fontSize:13, fontFamily:SANS, color:'#1a1a1a', padding:[0,0,0,6]}}),
    Object.assign({}, legendCommon, {left:559, top:359, data:[RUN1, RUN2, RUN3, APO], itemWidth:28, itemGap:5, padding:[3,8,3,4],
      textStyle:{fontSize:13, fontFamily:SANS, color:'#1a1a1a', padding:[0,0,0,5]}})
  ],
  graphic:[
    {type:'rect', shape:{x:12, y:11, width:934, height:4}, style:{fill:'#000'}, z:100},
    {type:'rect', shape:{x:12, y:11, width:4, height:667}, style:{fill:'#000'}, z:100},
    {type:'rect', shape:{x:12, y:319, width:934, height:4}, style:{fill:'#000'}, z:100},
    {type:'text', x:26, y:26, style:{text:'A', font:'bold 34px '+SANS, fill:'#000'}, z:100},
    {type:'text', x:27, y:329, style:{text:'B', font:'bold 31px '+SANS, fill:'#000'}, z:100},
    {type:'text', x:85, y:150, rotation:Math.PI/2, style:{text:'Current Flow\nBetweeness Centrality', font:'17px '+SERIF, fill:'#1a1a1a', textAlign:'center', textVerticalAlign:'middle', align:'center', verticalAlign:'middle', lineHeight:22}, z:100},
    {type:'text', x:47, y:482, rotation:Math.PI/2, style:{text:'Current Flow\nBetweeness Centrality', font:'17px '+SERIF, fill:'#1a1a1a', textAlign:'center', textVerticalAlign:'middle', align:'center', verticalAlign:'middle', lineHeight:22}, z:100},
    {type:'text', x:498, y:303, style:{text:'ResID Index', font:'26px '+SERIF, fill:'#1a1a1a', textAlign:'center', textVerticalAlign:'middle', align:'center', verticalAlign:'middle'}, z:100},
    {type:'text', x:273, y:660, style:{text:'ResID Index', font:'19px '+SERIF, fill:'#1a1a1a', textAlign:'center', textVerticalAlign:'middle', align:'center', verticalAlign:'middle'}, z:100},
    {type:'text', x:687, y:660, style:{text:'ResID Index', font:'19px '+SERIF, fill:'#1a1a1a', textAlign:'center', textVerticalAlign:'middle', align:'center', verticalAlign:'middle'}, z:100},
    {type:'text', x:876, y:328, style:{text:'P', font:'italic 27px '+SERIF, fill:'#1a1a1a'}, z:100},
    {type:'text', x:893, y:340, style:{text:'Ril', font:'italic 18px '+SERIF, fill:'#1a1a1a'}, z:100}
  ],
  series: series
};
chart.setOption(option);
</script></body></html>
